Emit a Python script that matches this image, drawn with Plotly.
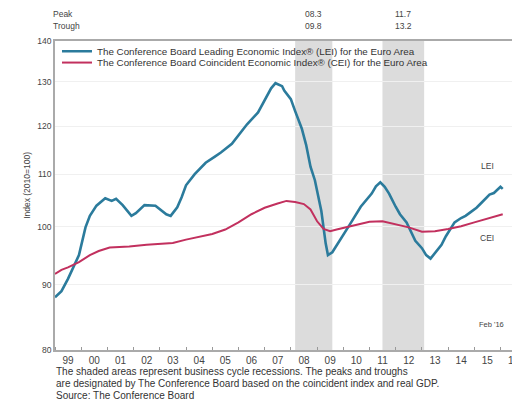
import plotly.graph_objects as go
import datetime as _dt

# LEI (Leading Economic Index)
lei_dates = ["1999-01","1999-04","1999-07","1999-12","2000-03","2000-05","2000-08","2000-12",
             "2001-03","2001-05","2001-08","2001-12","2002-02","2002-06","2002-11","2003-02",
             "2003-04","2003-06","2003-09","2003-11","2004-01","2004-05","2004-10","2005-02",
             "2005-05","2005-10","2006-02","2006-05","2006-10","2007-01","2007-04","2007-06",
             "2007-09","2007-10","2008-01","2008-03","2008-06","2008-08","2008-10","2008-12",
             "2009-03","2009-05","2009-06","2009-08","2009-11","2010-02","2010-04","2010-09",
             "2011-02","2011-04","2011-06","2011-08","2011-10","2012-01","2012-03","2012-06",
             "2012-08","2012-10","2013-01","2013-03","2013-05","2013-07","2013-10","2013-12",
             "2014-02","2014-04","2014-07","2014-09","2014-11","2015-02","2015-04","2015-06",
             "2015-08","2015-10","2016-01","2016-02"]
lei_values = [88.0,89.0,91.0,95.0,99.9,102.0,103.9,105.3,
              104.8,105.2,104.0,102.0,102.5,104.0,103.9,103.0,
              102.3,102.0,103.6,105.5,107.8,110.0,112.3,113.5,
              114.4,116.2,118.5,120.4,123.0,125.6,128.5,129.7,
              129.0,128.0,126.0,123.3,119.5,116.0,111.5,108.8,
              102.9,97.0,95.0,95.5,97.3,99.0,100.4,103.7,
              106.2,107.6,108.4,107.5,106.2,103.7,102.3,100.8,
              99.1,97.5,96.2,95.0,94.4,95.3,96.8,98.3,
              99.6,100.8,101.6,102.0,102.6,103.5,104.3,105.2,
              106.0,106.3,107.5,107.1]

# CEI (Coincident Economic Index)
cei_dates = ["1999-01","1999-04","1999-07","1999-12","2000-05","2000-09","2001-02","2001-07",
             "2001-11","2002-07","2003-01","2003-07","2004-01","2004-07","2005-01","2005-07",
             "2006-01","2006-07","2007-01","2007-07","2007-11","2008-03","2008-07","2008-10",
             "2009-01","2009-04","2009-07","2009-10","2010-01","2010-07","2011-01","2011-07",
             "2012-01","2012-07","2013-01","2013-07","2014-01","2014-07","2015-01","2015-07",
             "2016-02"]
cei_values = [91.8,92.5,92.9,93.8,95.0,95.7,96.3,96.4,
              96.5,96.8,97.0,97.1,97.7,98.2,98.7,99.5,
              100.8,102.3,103.5,104.3,104.8,104.6,104.2,103.2,
              101.0,99.6,99.2,99.5,99.8,100.3,100.9,101.0,
              100.5,99.9,99.1,99.2,99.6,100.1,100.8,101.5,
              102.3]

recession_peaks = ["2008-03-01", "2011-07-01"]
recession_troughs = ["2009-08-01", "2013-02-01"]
peak_labels = ["08.3", "11.7"]
trough_labels = ["09.8", "13.2"]
y_ticks = [80, 90, 100, 110, 120, 130, 140]
x_years = list(range(1999, 2017))
x_tick_labels = ["%02d" % (y % 100) for y in x_years]

FONT = "Liberation Sans, Arial, sans-serif"
TXT = "#444444"

# plot area on screen: x 55..520, y 41..342 (page has 8px body margin)
def px(x):
    return (x - 55) / 465.0

def py(y):
    return (342 - y) / 301.0

fig = go.Figure()
fig.add_trace(go.Scatter(
    x=lei_dates, y=lei_values, mode="lines", legend="legend",
    name="The Conference Board Leading Economic Index® (LEI) for the Euro Area",
    line=dict(color="#2b7b9c", width=2.6)))
fig.add_trace(go.Scatter(
    x=cei_dates, y=cei_values, mode="lines", legend="legend2",
    name="The Conference Board Coincident Economic Index® (CEI) for the Euro Area",
    line=dict(color="#c2305e", width=2)))

shapes = []
annotations = []

def ann(x, y, text, size, xanchor="center", xref="paper", color=TXT, **kw):
    return dict(x=x, y=y, xref=xref, yref="paper", text=text, showarrow=False,
                xanchor=xanchor, yanchor="middle",
                font=dict(size=size, color=color, family=FONT), **kw)

for p, t, pl, tl in zip(recession_peaks, recession_troughs, peak_labels, trough_labels):
    shapes.append(dict(type="rect", xref="x", yref="paper", x0=p, x1=t, y0=0, y1=1,
                       fillcolor="#dcdcdc", line=dict(width=0), layer="below"))
    d0 = _dt.date.fromisoformat(p); d1 = _dt.date.fromisoformat(t)
    mid = d0 + (d1 - d0) / 2
    annotations.append(ann(mid.isoformat(), py(15), pl, 8.5, xref="x"))
    annotations.append(ann(mid.isoformat(), py(26), tl, 8.5, xref="x"))

annotations += [
    ann(px(51), py(15), "Peak", 8.5, xanchor="left"),
    ann(px(51), py(26), "Trough", 8.5, xanchor="left"),
    ann(px(27), py(182), "Index (2010=100)", 8.5, textangle=-90),
    ann(px(489), py(163), "LEI", 8.5),
    ann(px(489), py(233), "CEI", 8.5),
    ann(px(493), py(317), "Feb '16", 7.5),
    ann(px(54), py(363), "The shaded areas represent business cycle recessions. The peaks and troughs",
        10, xanchor="left", color="#333333"),
    ann(px(54), py(375), "are designated by The Conference Board based on the coincident index and real GDP.",
        10, xanchor="left", color="#333333"),
    ann(px(54), py(386), "Source: The Conference Board", 10, xanchor="left", color="#333333"),
]

leg_common = dict(xanchor="left", yanchor="middle", bgcolor="rgba(0,0,0,0)",
                  font=dict(size=9.8, color="#333333", family=FONT),
                  itemwidth=30, borderwidth=0)

fig.update_layout(
    width=512, height=401,
    margin=dict(l=47, r=0, t=33, b=59),
    paper_bgcolor="white", plot_bgcolor="white",
    font=dict(family=FONT, color=TXT, size=8),
    shapes=shapes, annotations=annotations,
    showlegend=True,
    legend=dict(x=px(57), y=py(51), **leg_common),
    legend2=dict(x=px(57), y=py(62), **leg_common),
)
fig.update_xaxes(
    type="date", range=["1999-01-01", "2016-09-01"],
    tickvals=["%d-07-02" % y for y in x_years], ticktext=x_tick_labels,
    ticks="", ticklabeloverflow="allow",
    minor=dict(ticks="inside", ticklen=3, tickcolor="#999999",
               tick0="1999-01-01", dtick="M12", showgrid=False),
    showline=True, linecolor="#aaaaaa", linewidth=1.5, mirror=True,
    showgrid=False, tickfont=dict(size=10, color=TXT), zeroline=False,
)
fig.update_yaxes(
    type="log", range=[1.90309, 2.146128], tickvals=y_ticks,
    ticktext=[str(v) for v in y_ticks],
    showline=True, linecolor="#aaaaaa", linewidth=1.5,
    showgrid=True, gridcolor="#f0f0f0", gridwidth=1,
    tickfont=dict(size=8.5, color=TXT), ticks="", zeroline=False,
)

fig.write_html("out.html")
